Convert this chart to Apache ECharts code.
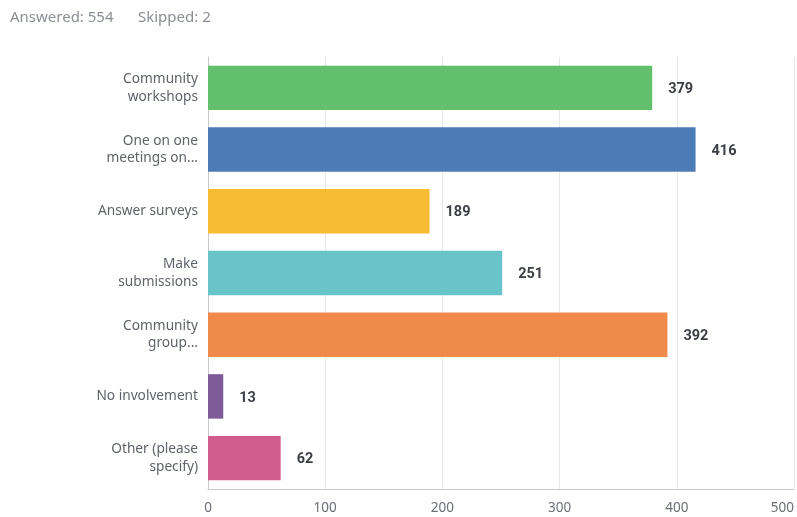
<!DOCTYPE html>
<html><head><meta charset="utf-8">
<script src="https://cdn.jsdelivr.net/npm/echarts@6/dist/echarts.min.js"></script>
<style>html,body{margin:0;padding:0;background:#fff}#c{width:797px;height:517px}</style>
</head><body><div id="c"></div>
<script>
const categories = ["Community\nworkshops","One on one\nmeetings on...","Answer surveys","Make\nsubmissions","Community\ngroup...","No involvement","Other (please\nspecify)"];
const values = [379,416,189,251,392,13,62];
const colors = ["#62BF6C","#4C7BB5","#F7BC33","#68C4C8","#EF8A4B","#7E5B96","#D05C8E"];
const xTicks = [0,100,200,300,400,500];
const answered = 554;
const skipped = 2;

const chart = echarts.init(document.getElementById('c'));
const headStyle = {fontFamily:"Noto Sans",fontSize:15,fill:"#8a8e94"};
chart.setOption({
  animation:false,
  graphic:[
    {type:"text",left:10,top:10,style:Object.assign({text:"Answered: "+answered},headStyle)},
    {type:"text",left:138,top:10,style:Object.assign({text:"Skipped: "+skipped},headStyle)}
  ],
  grid:{left:208,right:3,top:57,bottom:28,containLabel:false},
  xAxis:{type:"value",min:xTicks[0],max:xTicks[xTicks.length-1],interval:100,
    axisLine:{show:true,lineStyle:{color:"#c8c9cc"}},axisTick:{show:false},
    splitLine:{lineStyle:{color:"#e8e8ea"}},
    axisLabel:{margin:12,color:"#6b6f76",fontFamily:"Noto Sans",fontSize:13.5,alignMaxLabel:"right"}},
  yAxis:{type:"category",inverse:true,data:categories,
    axisLine:{show:true,lineStyle:{color:"#c8c9cc"}},axisTick:{show:false},
    axisLabel:{margin:10,color:"#5f636a",fontFamily:"Noto Sans",fontSize:13.7,lineHeight:17.5,align:"right"}},
  series:[{type:"bar",barCategoryGap:"28%",
    data:values.map((v,i)=>({value:v,itemStyle:{color:colors[i]}})),
    label:{show:true,position:"right",distance:16,offset:[0,1.5],color:"#3b3e44",fontFamily:"Roboto",fontWeight:"bold",fontSize:14.5}}]
});
</script></body></html>
